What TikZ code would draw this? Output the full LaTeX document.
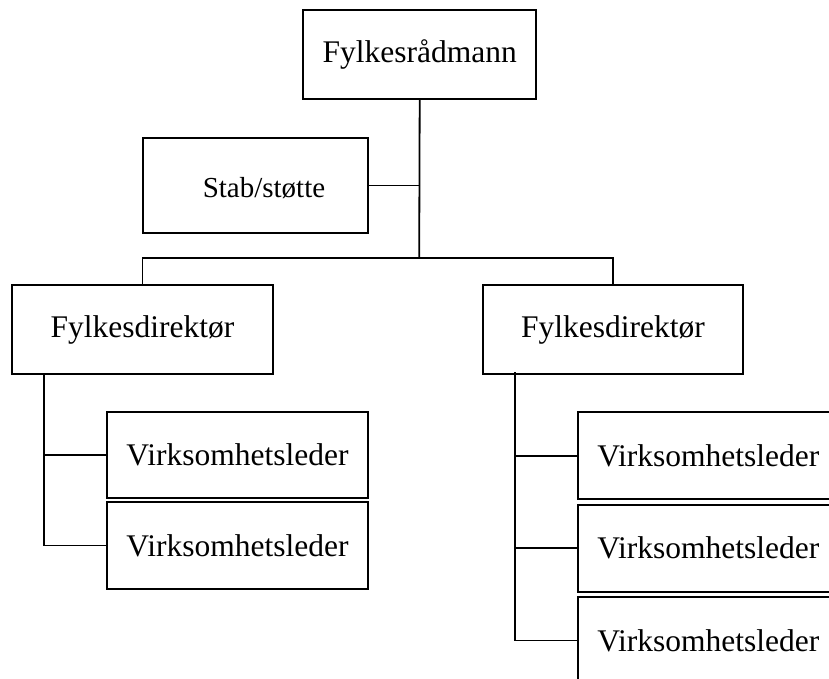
\documentclass[tikz,border=0pt]{standalone}
\usepackage{fontspec}
\setmainfont{Liberation Serif}
\begin{document}
\begin{tikzpicture}[x=1pt,y=-1pt,
  orgbox/.style={draw, line width=1.8pt, inner sep=0pt, anchor=center, fill=white},
  bigtext/.style={font=\fontsize{31.5}{36}\selectfont},
  smalltext/.style={font=\fontsize{29}{34}\selectfont, inner sep=0pt},
  conn/.style={line width=1.8pt}]
\useasboundingbox (0,0) rectangle (829,679);
\clip (0,0) rectangle (829,679);
% boxes
\node[orgbox, bigtext, minimum width=232.7pt, minimum height=88.7pt] (top) at (419.7,54.3) {Fylkesrådmann};
\node[orgbox, minimum width=224.7pt, minimum height=94.4pt] (stab) at (255.7,185.5) {};
\node[smalltext] (stabtext) at (264,188) {Stab/støtte};
\node[orgbox, bigtext, minimum width=260.4pt, minimum height=89pt] (fd1) at (142.5,329.5) {Fylkesdirektør};
\node[orgbox, bigtext, minimum width=260pt, minimum height=89pt] (fd2) at (613,329.5) {Fylkesdirektør};
\node[orgbox, bigtext, minimum width=260.4pt, minimum height=85.7pt] (v1a) at (237.5,454.9) {Virksomhetsleder};
\node[orgbox, bigtext, minimum width=260.4pt, minimum height=86.4pt] (v1b) at (237.5,545.5) {Virksomhetsleder};
\node[orgbox, bigtext, minimum width=260pt, minimum height=87.3pt] (v2a) at (708.3,455.7) {Virksomhetsleder};
\node[orgbox, bigtext, minimum width=260pt, minimum height=87pt] (v2b) at (708.3,548.2) {Virksomhetsleder};
\node[orgbox, bigtext, minimum width=260pt, minimum height=87pt] (v2c) at (708.3,640.5) {Virksomhetsleder};
% coordinates
\coordinate (bus) at (419.2,258);
\coordinate (s1top) at (44.3,374);
\coordinate (s2top) at (515,372);
% connectors
\draw[conn] (top.south) -- (bus);
\draw[conn] (stab.east) -- (stab.east -| bus);
\draw[conn] (fd1.north) |- (bus) -| (fd2.north);
\draw[conn] (s1top) |- (v1b.west);
\draw[conn] (v1a.west) -- (v1a.west -| s1top);
\draw[conn] (s2top) |- (v2c.west);
\draw[conn] (v2a.west) -- (v2a.west -| s2top);
\draw[conn] (v2b.west) -- (v2b.west -| s2top);
\end{tikzpicture}
\end{document}
